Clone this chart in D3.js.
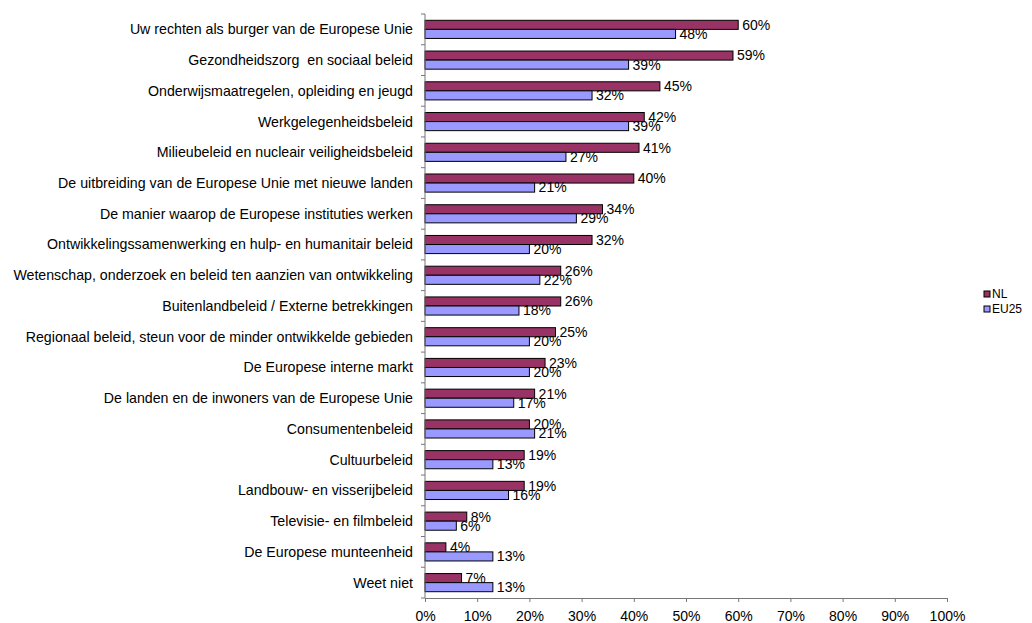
<!doctype html>
<html lang="nl">
  <head>
    <meta charset="utf-8">
    <title>Onderwerpen</title>
    <script src="https://d3js.org/d3.v7.min.js"></script>
    <style>
      body { margin: 0; background: white; }
      text { font-family: "Liberation Sans", Arial, sans-serif; fill: black; white-space: pre; }
    </style>
  </head>

  <body>
    <svg width="1032" height="623"></svg>
    <script>
      var categories = [
        'Uw rechten als burger van de Europese Unie',
        'Gezondheidszorg  en sociaal beleid',
        'Onderwijsmaatregelen, opleiding en jeugd',
        'Werkgelegenheidsbeleid',
        'Milieubeleid en nucleair veiligheidsbeleid',
        'De uitbreiding van de Europese Unie met nieuwe landen',
        'De manier waarop de Europese instituties werken',
        'Ontwikkelingssamenwerking en hulp- en humanitair beleid',
        'Wetenschap, onderzoek en beleid ten aanzien van ontwikkeling',
        'Buitenlandbeleid / Externe betrekkingen',
        'Regionaal beleid, steun voor de minder ontwikkelde gebieden',
        'De Europese interne markt',
        'De landen en de inwoners van de Europese Unie',
        'Consumentenbeleid',
        'Cultuurbeleid',
        'Landbouw- en visserijbeleid',
        'Televisie- en filmbeleid',
        'De Europese munteenheid',
        'Weet niet'
      ];
      var nl = [60, 59, 45, 42, 41, 40, 34, 32, 26, 26, 25, 23, 21, 20, 19, 19, 8, 4, 7];
      var eu25 = [48, 39, 32, 39, 27, 21, 29, 20, 22, 18, 20, 20, 17, 21, 13, 16, 6, 13, 13];
      var seriesNames = ['NL', 'EU25'];
      var colors = ['#993366', '#9999ff'];
      var ticks = [0, 10, 20, 30, 40, 50, 60, 70, 80, 90, 100];

      var svg = d3.select('svg');
      var marginLeft = 425, marginTop = 14, width = 522, height = 584;

      var x = d3.scaleLinear().domain([0, 100]).range([0, width]);
      var y = d3.scaleBand().domain(categories).range([0, height]).paddingInner(0.41).paddingOuter(0.205);
      var sub = d3.scaleBand().domain(seriesNames).range([0, y.bandwidth()]);

      var g = svg.append('g')
        .attr('transform', 'translate(' + marginLeft + ',' + marginTop + ')');

      // bars
      var series = [nl, eu25];
      series.forEach(function(vals, s) {
        g.selectAll('rect.s' + s).data(vals).enter()
          .append('rect')
          .attr('class', 's' + s)
          .attr('x', 0)
          .attr('y', function(d, i) { return y(categories[i]) + sub(seriesNames[s]); })
          .attr('width', function(d) { return x(d); })
          .attr('height', sub.bandwidth())
          .style('fill', colors[s])
          .style('stroke', 'black')
          .style('stroke-width', 1);

        g.selectAll('text.l' + s).data(vals).enter()
          .append('text')
          .attr('class', 'l' + s)
          .attr('x', function(d) { return x(d) + 4; })
          .attr('y', function(d, i) { return y(categories[i]) + sub(seriesNames[s]) + sub.bandwidth() / 2; })
          .attr('dy', '0.35em')
          .style('font-size', '14px')
          .text(function(d) { return d + '%'; });
      });

      // y axis with ticks between categories
      var step = height / categories.length;
      g.append('line')
        .attr('x1', 0).attr('x2', 0).attr('y1', 0).attr('y2', height)
        .style('stroke', '#777');
      g.selectAll('line.yt').data(d3.range(categories.length + 1)).enter()
        .append('line')
        .attr('class', 'yt')
        .attr('x1', -4).attr('x2', 0)
        .attr('y1', function(d) { return d * step; })
        .attr('y2', function(d) { return d * step; })
        .style('stroke', '#777');
      g.selectAll('text.cat').data(categories).enter()
        .append('text')
        .attr('class', 'cat')
        .attr('x', -12)
        .attr('y', function(d) { return y(d) + y.bandwidth() / 2; })
        .attr('dy', '0.35em')
        .attr('text-anchor', 'end')
        .style('font-size', '14.2px')
        .text(function(d) { return d; });

      // x axis
      var xAxis = g.append('g')
        .attr('transform', 'translate(0,' + height + ')')
        .call(d3.axisBottom(x).tickValues(ticks).tickSize(4).tickSizeOuter(0)
          .tickFormat(function(d) { return d + '%'; }));
      xAxis.select('.domain').style('stroke', '#777');
      xAxis.selectAll('.tick line').style('stroke', '#777');
      xAxis.selectAll('.tick text')
        .attr('y', 13)
        .style('font-size', '14px')
        .style('font-family', '"Liberation Sans", Arial, sans-serif');

      // legend
      var legend = svg.append('g')
        .attr('transform', 'translate(984,291)');
      seriesNames.forEach(function(name, i) {
        legend.append('rect')
          .attr('x', 0).attr('y', i * 15)
          .attr('width', 6).attr('height', 6)
          .style('fill', colors[i])
          .style('stroke', 'black');
        legend.append('text')
          .attr('x', 8).attr('y', i * 15 + 3)
          .attr('dy', '0.35em')
          .style('font-size', '12px')
          .text(name);
      });
    </script>
  </body>
</html>
